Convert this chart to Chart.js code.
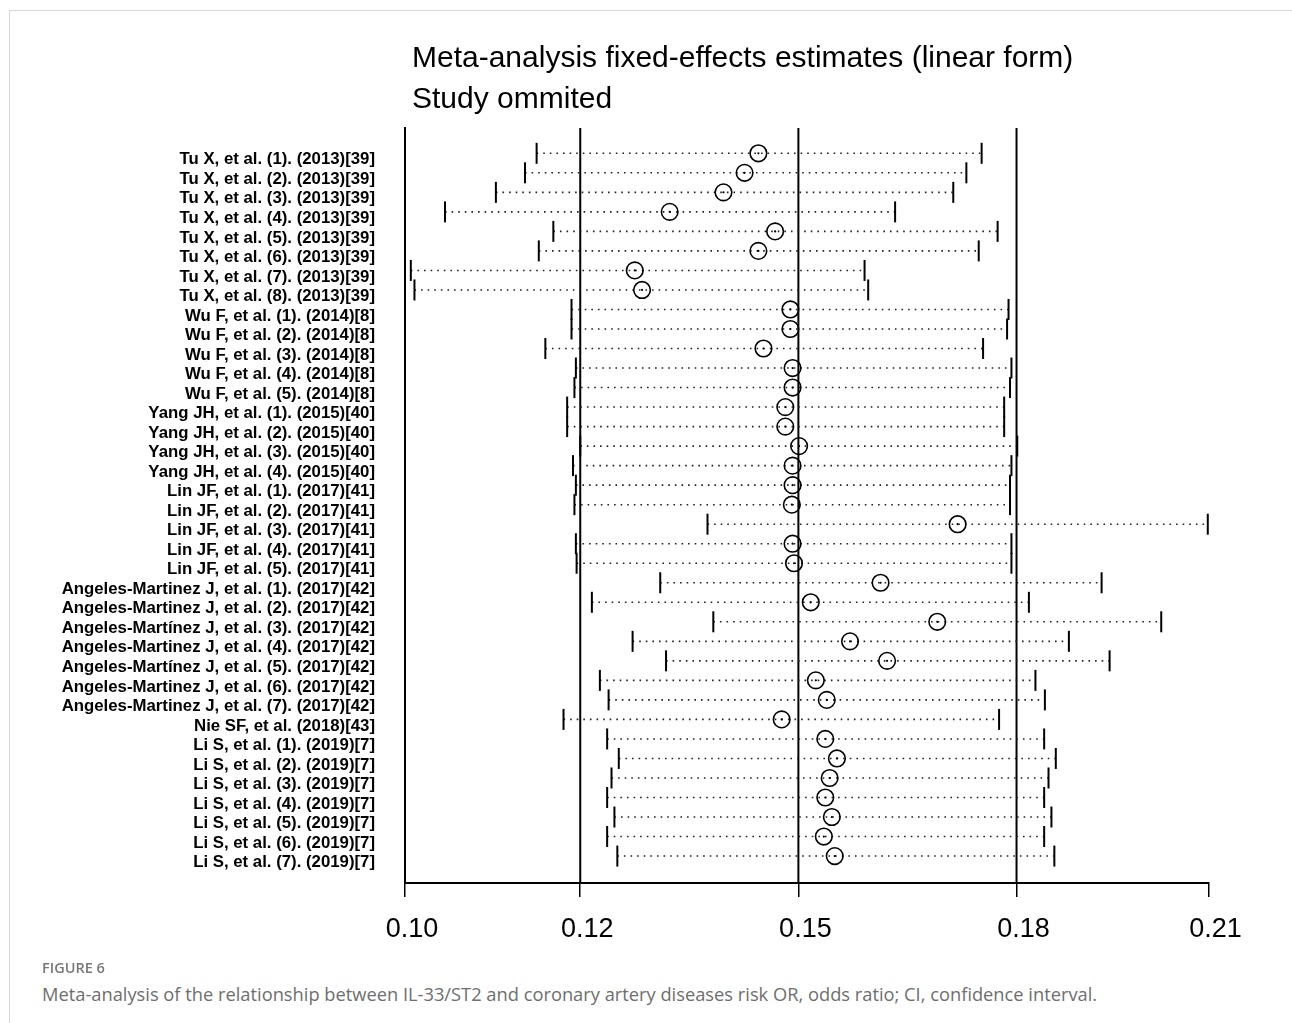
<!DOCTYPE html>
<html><head><meta charset="utf-8">
<script src="https://cdn.jsdelivr.net/npm/chart.js@4.4.1/dist/chart.umd.min.js"></script>
<style>
html,body{margin:0;padding:0;background:#fff;width:1292px;height:1023px;overflow:hidden;position:relative;font-family:"Liberation Sans",Arial,sans-serif;}
#frame{position:absolute;left:9px;top:10px;width:1300px;height:1100px;border-top:1px solid #d6d6d6;border-left:1px solid #d6d6d6;}
#wrap{position:absolute;left:0;top:0;width:1292px;height:960px;}
#title{position:absolute;left:412px;top:36px;font-family:"Liberation Sans",Arial,sans-serif;font-size:30px;line-height:41px;color:#000;white-space:nowrap;}
#figlabel{position:absolute;left:42px;top:958px;font-family:"Open Sans",sans-serif;font-size:14.5px;font-weight:600;color:#777;}
#caption{position:absolute;left:42px;top:981px;font-family:"Open Sans",sans-serif;font-size:18.3px;color:#6e6e6e;white-space:nowrap;}
</style></head><body>
<div id="frame"></div>
<div id="wrap"><canvas id="c" width="1292" height="960"></canvas></div>
<div id="title">Meta-analysis fixed-effects estimates (linear form)<br>Study ommited</div>
<div id="figlabel">FIGURE 6</div>
<div id="caption">Meta-analysis of the relationship between IL-33/ST2 and coronary artery diseases risk OR, odds ratio; CI, confidence interval.</div>
<script>
const studies = [
"Tu X, et al. (1). (2013)[39]","Tu X, et al. (2). (2013)[39]","Tu X, et al. (3). (2013)[39]","Tu X, et al. (4). (2013)[39]",
"Tu X, et al. (5). (2013)[39]","Tu X, et al. (6). (2013)[39]","Tu X, et al. (7). (2013)[39]","Tu X, et al. (8). (2013)[39]",
"Wu F, et al. (1). (2014)[8]","Wu F, et al. (2). (2014)[8]","Wu F, et al. (3). (2014)[8]","Wu F, et al. (4). (2014)[8]","Wu F, et al. (5). (2014)[8]",
"Yang JH, et al. (1). (2015)[40]","Yang JH, et al. (2). (2015)[40]","Yang JH, et al. (3). (2015)[40]","Yang JH, et al. (4). (2015)[40]",
"Lin JF, et al. (1). (2017)[41]","Lin JF, et al. (2). (2017)[41]","Lin JF, et al. (3). (2017)[41]","Lin JF, et al. (4). (2017)[41]","Lin JF, et al. (5). (2017)[41]",
"Angeles-Martinez J, et al. (1). (2017)[42]","Angeles-Martinez J, et al. (2). (2017)[42]","Angeles-Martínez J, et al. (3). (2017)[42]",
"Angeles-Martinez J, et al. (4). (2017)[42]","Angeles-Martínez J, et al. (5). (2017)[42]","Angeles-Martinez J, et al. (6). (2017)[42]",
"Angeles-Martinez J, et al. (7). (2017)[42]",
"Nie SF, et al. (2018)[43]",
"Li S, et al. (1). (2019)[7]","Li S, et al. (2). (2019)[7]","Li S, et al. (3). (2019)[7]","Li S, et al. (4). (2019)[7]",
"Li S, et al. (5). (2019)[7]","Li S, et al. (6). (2019)[7]","Li S, et al. (7). (2019)[7]"
];
const estimate = [0.1441,0.1422,0.1393,0.1319,0.1464,0.1441,0.1271,0.1281,
0.1485,0.1485,0.1448,0.1488,0.1488,
0.1478,0.1478,0.1497,0.1488,
0.1488,0.1487,0.1715,0.1488,0.1490,
0.1609,0.1513,0.1687,0.1567,0.1618,0.1520,0.1535,
0.1473,
0.1533,0.1549,0.1539,0.1533,0.1542,0.1531,0.1546];
const lowerCI = [0.1136,0.1120,0.1080,0.1010,0.1159,0.1139,0.0963,0.0968,
0.1184,0.1184,0.1148,0.1190,0.1188,
0.1178,0.1178,0.1196,0.1186,
0.1190,0.1188,0.1371,0.1190,0.1191,
0.1306,0.1212,0.1379,0.1268,0.1314,0.1223,0.1235,
0.1173,
0.1233,0.1249,0.1239,0.1233,0.1243,0.1233,0.1247];
const upperCI = [0.1748,0.1727,0.1709,0.1629,0.1770,0.1744,0.1587,0.1592,
0.1785,0.1783,0.1750,0.1789,0.1787,
0.1779,0.1779,0.1797,0.1789,
0.1787,0.1787,0.2059,0.1789,0.1789,
0.1913,0.1813,0.1995,0.1868,0.1924,0.1822,0.1835,
0.1772,
0.1834,0.1850,0.1840,0.1834,0.1844,0.1834,0.1848];
const overall = [0.1196, 0.1496, 0.1796];
const xTickValues = [0.0955, 0.1196, 0.1496, 0.1796, 0.2060];
const xTickLabels = ["0.10", "0.12", "0.15", "0.18", "0.21"];

const Y_MIN = -0.296, Y_MAX = 38.38;
const rows = studies.map((s, i) => i + 1);

const datasets = [];
overall.forEach(v => {
  datasets.push({type:'line', data:[{x:v,y:Y_MIN},{x:v,y:Y_MAX}], borderColor:'#000', borderWidth:2,
    pointRadius:0, fill:false, order:5, clip:false});
});
rows.forEach((r, i) => {
  datasets.push({type:'line', data:[{x:lowerCI[i],y:r},{x:upperCI[i],y:r}], borderColor:'#222',
    borderWidth:1.6, borderDash:[1.6,5], pointRadius:0, fill:false, order:4, clip:false});
});
datasets.push({type:'scatter', data: rows.map((r,i)=>({x:lowerCI[i],y:r})).concat(rows.map((r,i)=>({x:upperCI[i],y:r}))),
  pointStyle:'line', rotation:90, pointRadius:10.5, pointBorderWidth:2, borderColor:'#000', backgroundColor:'#000', order:3, clip:false});
datasets.push({type:'scatter', data: rows.map((r,i)=>({x:estimate[i],y:r})),
  pointStyle:'circle', pointRadius:8.3, pointBorderWidth:1.6, borderColor:'#000', backgroundColor:'rgba(0,0,0,0)', order:2, clip:false});
datasets.push({type:'scatter', data: rows.map((r,i)=>({x:estimate[i],y:r})),
  pointStyle:'circle', pointRadius:1.1, pointBorderWidth:0, borderColor:'#000', backgroundColor:'#000', order:1, clip:false});

new Chart(document.getElementById('c'), {
  data: {datasets},
  options: {
    responsive:false, animation:false, devicePixelRatio:1,
    layout:{padding:{left:0, right:83.5, top:128, bottom:0}},
    plugins:{legend:{display:false}, tooltip:{enabled:false}, title:{display:false}},
    scales:{
      x:{type:'linear', min:xTickValues[0], max:xTickValues[xTickValues.length-1],
        afterBuildTicks:(sc)=>{ sc.ticks = xTickValues.map(v=>({value:v})); },
        afterFit:(sc)=>{ sc.height = 77; },
        ticks:{autoSkip:false, maxRotation:0, padding:16, labelOffset:7, color:'#000',
          font:{family:'"Liberation Sans", Arial, sans-serif', size:27},
          callback:(v,i)=>xTickLabels[i]},
        grid:{display:true, drawOnChartArea:false, drawTicks:true, tickLength:14, color:'#000', lineWidth:1.5},
        border:{display:true, color:'#000', width:2}
      },
      y:{type:'linear', reverse:true, min:Y_MIN, max:Y_MAX,
        afterBuildTicks:(sc)=>{ sc.ticks = rows.map(v=>({value:v})); },
        afterFit:(sc)=>{ sc.width = 405; },
        ticks:{autoSkip:false, padding:30, labelOffset:6.5, color:'#000',
          font:{family:'"Liberation Sans", Arial, sans-serif', size:16.8, weight:'bold'},
          callback:(v)=>studies[v-1]},
        grid:{display:false, drawTicks:false},
        border:{display:true, color:'#000', width:2}
      }
    }
  }
});
</script>
</body></html>
